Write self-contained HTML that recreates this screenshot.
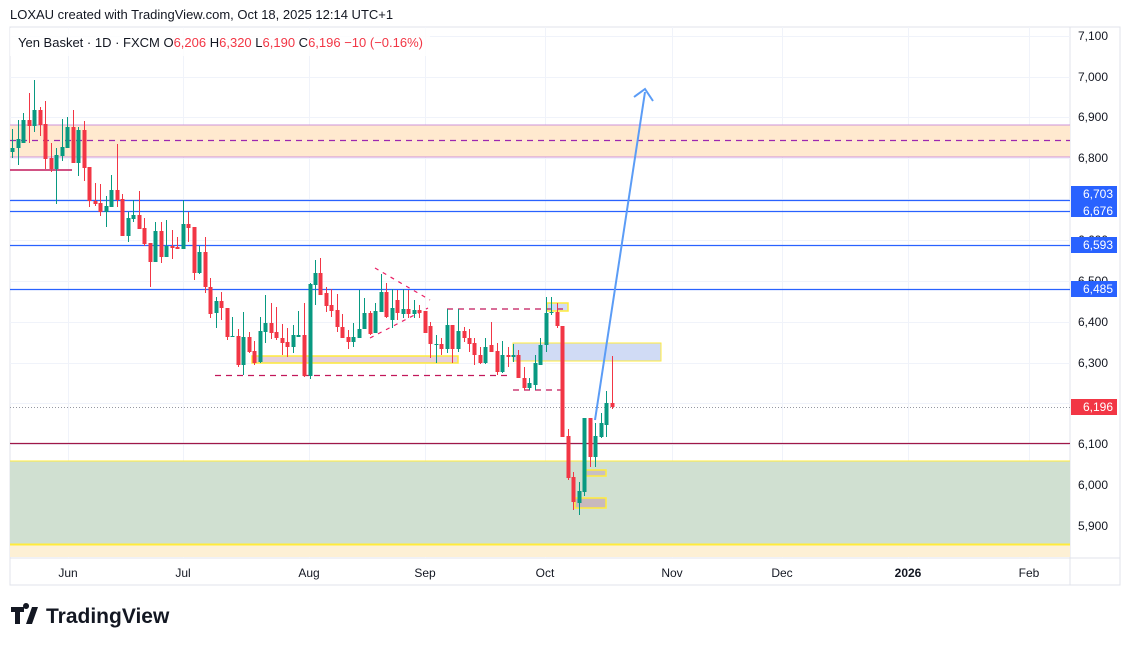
<!DOCTYPE html><html><head><style>
body{margin:0;background:#fff;width:1132px;height:646px;overflow:hidden;font-family:"Liberation Sans",sans-serif}
</style></head><body>
<svg id="s" width="1132" height="646" xmlns="http://www.w3.org/2000/svg" font-family="Liberation Sans, sans-serif">
<rect width="1132" height="646" fill="#fff"/>
<text x="10" y="19" font-size="13" fill="#131722">LOXAU created with TradingView.com, Oct 18, 2025 12:14 UTC+1</text>
<rect x="10" y="27" width="1110" height="558" fill="none" stroke="#e0e3eb"/>
<line x1="1070" y1="27" x2="1070" y2="585" stroke="#e0e3eb"/>
<line x1="10" y1="558" x2="1120" y2="558" stroke="#e0e3eb"/>
<g id="grid" stroke="#f0f3fa"></g>
<!-- zones -->
<rect x="10" y="125" width="1060" height="32" fill="#ffe9cf"/>
<line x1="10" y1="125" x2="1070" y2="125" stroke="#ce93d8"/>
<line x1="10" y1="157" x2="1070" y2="157" stroke="#ce93d8"/>
<line x1="10" y1="140.5" x2="1070" y2="140.5" stroke="#9c27b0" stroke-dasharray="6,5" stroke-width="1.2"/>
<rect x="10" y="461" width="1060" height="84" fill="#d0e0d1"/>
<line x1="10" y1="461" x2="1070" y2="461" stroke="#ffeb3b"/>
<rect x="10" y="545" width="1060" height="12" fill="#fdf0d5"/>
<line x1="10" y1="544.5" x2="1070" y2="544.5" stroke="#ffeb3b" stroke-width="2"/>
<line x1="10" y1="170" x2="72" y2="170" stroke="#c2185b" stroke-width="1.5"/>
<g stroke="#2962ff" stroke-width="1.2">
<line x1="10" y1="200.5" x2="1070" y2="200.5"/><line x1="10" y1="211.5" x2="1070" y2="211.5"/>
<line x1="10" y1="245.5" x2="1070" y2="245.5"/><line x1="10" y1="289.5" x2="1070" y2="289.5"/></g>
<line x1="10" y1="443.5" x2="1070" y2="443.5" stroke="#a01848" stroke-width="1.2"/>
<line x1="10" y1="407.5" x2="1070" y2="407.5" stroke="#9598a1" stroke-dasharray="1,2"/>
<rect x="252" y="356" width="206" height="7" fill="#e6d0dc" stroke="#ffeb3b" stroke-width="1.5"/>
<rect x="513" y="343" width="148" height="18" fill="#d0dbf5" stroke="#ffeb3b" stroke-width="1"/>
<rect x="547" y="303" width="21" height="8" fill="#d0dbf5" stroke="#ffeb3b" stroke-width="1.5"/>
<rect x="586" y="470" width="20" height="6" fill="#c8bfc3" stroke="#ffeb3b" stroke-width="1.5"/>
<rect x="575" y="498" width="31" height="10" fill="#c8b9bd" stroke="#ffeb3b" stroke-width="1.5"/>
<g stroke="#c2185b" stroke-dasharray="6,5" stroke-width="1.2">
<line x1="215" y1="375.5" x2="512" y2="375.5"/><line x1="447" y1="309" x2="563" y2="309"/><line x1="513" y1="390" x2="563" y2="390"/>
</g>
<g stroke="#e91e63" stroke-dasharray="4,5" stroke-width="1.2">
<line x1="375" y1="268" x2="430" y2="300"/><line x1="370" y1="338" x2="428" y2="308"/>
</g>
<g id="c"></g>
<line x1="595" y1="420" x2="645" y2="92" stroke="#5b9cf6" stroke-width="2"/>
<polyline points="634,97 645,89 653,101" fill="none" stroke="#5b9cf6" stroke-width="2"/>
<g id="ax" font-size="12" fill="#131722"></g>
<g font-size="12" fill="#fff">
<rect x="1071" y="186" width="46" height="31" fill="#2962ff"/>
<text x="1113" y="198" text-anchor="end">6,703</text><text x="1113" y="215" text-anchor="end">6,676</text>
<rect x="1071" y="237" width="46" height="16" fill="#2962ff"/><text x="1113" y="249" text-anchor="end">6,593</text>
<rect x="1071" y="281" width="46" height="16" fill="#2962ff"/><text x="1113" y="293" text-anchor="end">6,485</text>
<rect x="1071" y="399" width="46" height="16" fill="#f23645"/><text x="1113" y="411" text-anchor="end">6,196</text>
</g>
<rect x="10" y="28" width="420" height="28" fill="#fff" opacity="0.8"/>
<text x="18" y="47" font-size="13" fill="#131722">Yen Basket · 1D · FXCM  O<tspan fill="#f23645">6,206</tspan>  H<tspan fill="#f23645">6,320</tspan>  L<tspan fill="#f23645">6,190</tspan>  C<tspan fill="#f23645">6,196  −10 (−0.16%)</tspan></text>
<g transform="translate(11,607)" fill="#131722"><path d="M0 0h13v5h-4v12h-5V5H0z M15 2a3 3 0 1 1 0.1 0z M21 0h6l-6 17h-6z"/></g>
<text x="46" y="623" font-size="21" font-weight="bold" fill="#131722">TradingView</text>
</svg>
<script>
var ns="http://www.w3.org/2000/svg";
function el(p,t,a,tx){var e=document.createElementNS(ns,t);for(var k in a)e.setAttribute(k,a[k]);if(tx)e.textContent=tx;p.appendChild(e);return e;}
var g=document.getElementById("grid"),ax=document.getElementById("ax");
var ticks=[[36,"7,100"],[77,"7,000"],[117,"6,900"],[158,"6,800"],[322,"6,400"],[363,"6,300"],[444,"6,100"],[485,"6,000"],[526,"5,900"]];
[36,77,117,158,199,240,281,322,363,403,444,485,526].forEach(function(y){el(g,"line",{x1:10,x2:1070,y1:y+.5,y2:y+.5});});
ticks.forEach(function(t){el(ax,"text",{x:1078,y:t[0]+4},t[1]);});
el(ax,"text",{x:1078,y:244,fill:"#131722"},"6,600");el(ax,"text",{x:1078,y:285},"6,500");
var m=[[68,"Jun"],[183,"Jul"],[309,"Aug"],[425,"Sep"],[545,"Oct"],[672,"Nov"],[782,"Dec"],[908,"2026"],[1029,"Feb"]];
m.forEach(function(t){el(g,"line",{x1:t[0]+.5,x2:t[0]+.5,y1:27,y2:558});var a={x:t[0],y:577,"text-anchor":"middle"};if(t[1]=="2026")a["font-weight"]="bold";el(ax,"text",a,t[1]);});
var C=[
[12,129,158,148,152,1],[18,120,165,139,148,1],[23,113,143,120,143,1],[29,93,143,120,126,0],[34,80,132,110,126,1],[40,107,136,110,125,0],[45,101,169,124,159,0],[51,143,172,158,169,0],[56,148,204,155,169,1],[62,119,161,147,156,1],[67,117,148,127,148,1],[73,110,163,127,163,0],[78,127,176,130,163,1],[84,121,181,130,168,0],[89,167,207,167,201,0],[95,183,206,201,204,0],[100,184,216,203,212,0],[106,196,227,206,212,1],[111,175,207,190,207,1],[117,144,207,190,200,0],[122,194,236,199,236,0],[128,212,242,218,236,1],[133,200,222,215,219,1],[139,191,229,215,229,0],[144,218,246,228,244,0],[150,243,287,243,262,0],[155,222,262,231,262,1],[161,222,263,231,257,0],[166,220,257,246,257,1],[172,230,259,246,248,0],[177,237,249,247,249,0],[183,200,249,224,249,1],[188,212,242,224,228,0],[194,227,280,227,273,0],[199,246,274,252,273,1],[205,237,293,252,287,0],[210,278,318,287,314,0],[216,297,328,301,313,1],[221,292,320,301,308,0],[227,308,340,308,337,0],[232,317,337,336,337,1],
[238,329,367,336,365,0],[243,312,375,337,365,1],[249,332,353,337,352,0],[254,341,365,351,363,0],[260,317,363,331,362,1],[265,295,343,323,332,1],[271,303,339,323,333,0],[276,307,340,332,338,0],[282,324,355,338,343,0],[287,328,357,342,347,0],[293,325,353,335,347,1],[298,311,337,335,337,1],[304,303,377,335,376,0],[310,283,379,284,376,1],
[315,260,305,273,285,1],[320,258,295,273,295,0],[326,287,312,293,306,0],[331,289,317,305,311,0],[337,294,332,310,327,0],[342,314,338,327,338,0],[348,330,349,337,342,0],[353,323,347,337,342,1],[359,290,338,329,338,1],[364,298,329,313,329,1],[370,311,335,313,334,0],[375,303,333,311,333,1],[381,274,312,292,312,1],[386,283,318,292,317,0],[392,289,328,308,320,1],[397,290,320,300,313,0],[403,289,318,309,314,1],[408,290,318,309,314,0],[414,300,318,310,314,1],[419,305,318,310,313,0],[425,311,333,311,333,0],[430,322,358,326,344,0],[436,335,363,344,345,1],[441,338,355,344,349,0],[447,309,353,325,349,1],[452,325,363,325,349,0],[458,309,352,331,349,1],[464,327,342,331,338,0],[469,329,352,338,344,0],[474,338,365,343,355,0],[480,347,364,355,363,0],[485,338,364,347,363,1],[491,322,352,345,352,0],[497,343,375,351,372,0],[502,341,373,355,372,1],[508,347,367,355,357,0],[513,344,362,355,357,1],[518,350,378,355,378,0],[524,367,390,378,388,0],[529,378,390,383,388,1],[535,355,390,363,385,1],[540,338,365,345,365,1],[546,297,352,313,345,1],[551,297,315,312,313,1],[557,303,328,312,326,0],[562,326,437,326,437,0],[568,429,480,436,478,0],[573,472,510,477,502,0],[579,482,515,491,503,1],[584,418,496,418,492,1],[590,418,467,418,457,0],[595,423,467,436,457,1],[601,413,438,423,437,1],[606,391,437,403,425,1],[612,356,409,403,407,0]];
var cg=document.getElementById("c");
C.forEach(function(c){var col=c[5]?"#089981":"#f23645";el(cg,"line",{x1:c[0]+.5,x2:c[0]+.5,y1:c[1],y2:c[2],stroke:col});el(cg,"rect",{x:c[0]-1.5,y:c[3],width:4,height:Math.max(1,c[4]-c[3]),fill:col});});
</script>
</body></html>
